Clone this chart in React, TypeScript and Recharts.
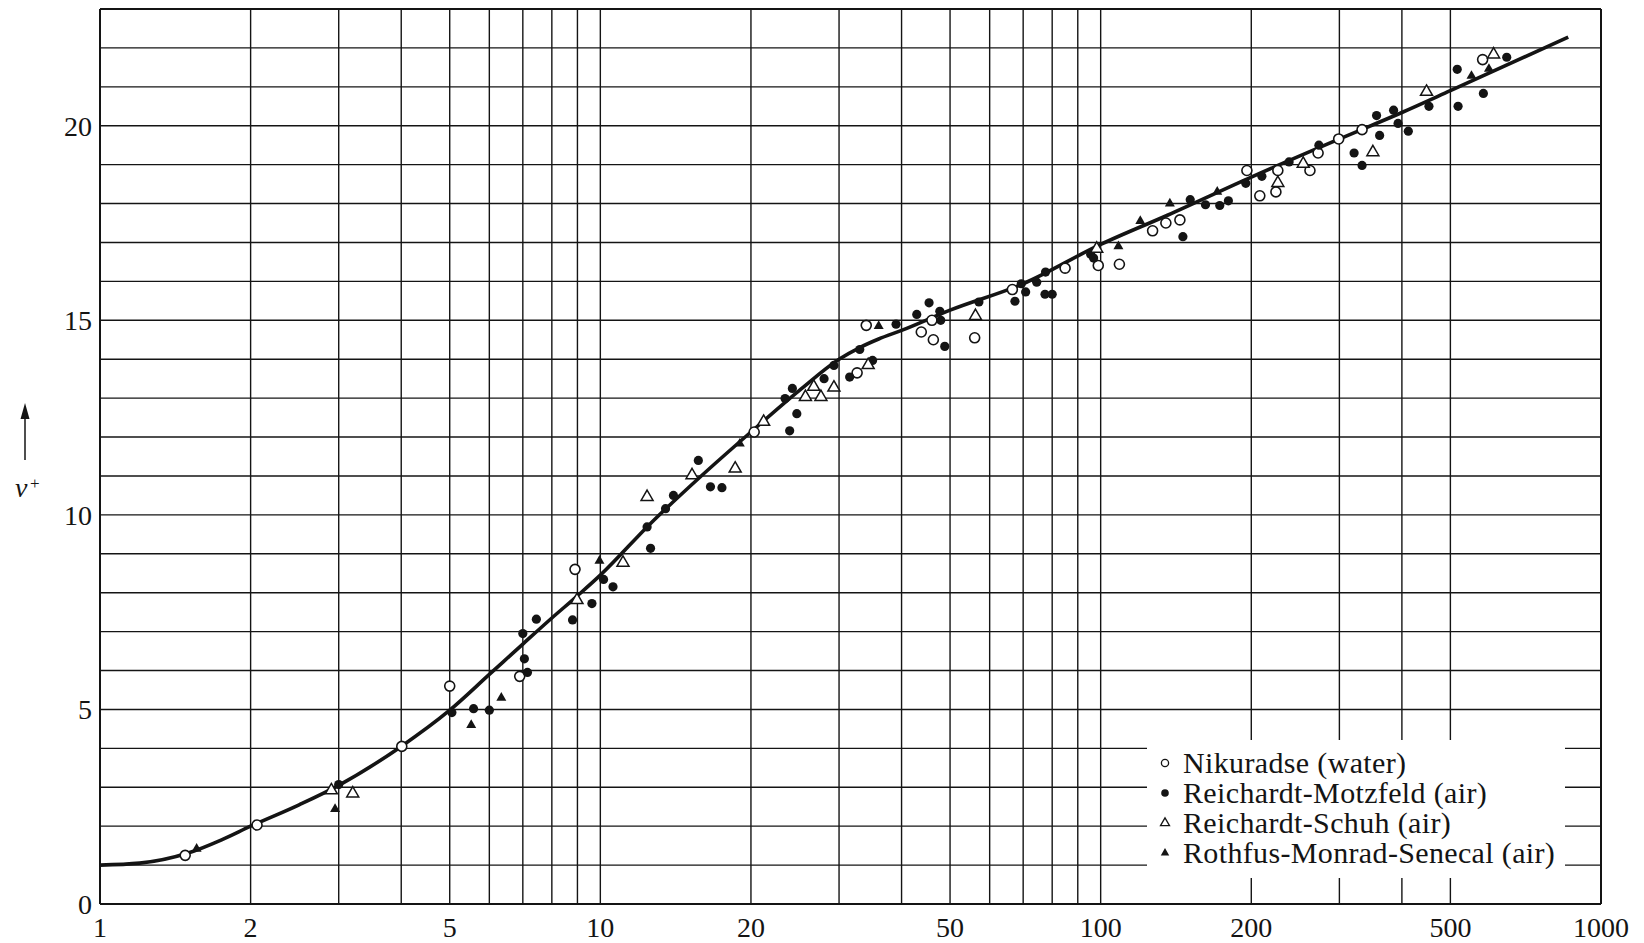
import React from 'react';
import { ComposedChart, Line, Scatter, XAxis, YAxis, ReferenceLine, Legend } from 'recharts';

const FONT = '"Liberation Serif", "Times New Roman", serif';
const INK = '#141414';

// axis ticks and grid values
const xTickLabels = [1, 2, 5, 10, 20, 50, 100, 200, 500, 1000];
const yTickLabels = [0, 5, 10, 15, 20];
const xGridValues = [2, 3, 4, 5, 6, 7, 8, 9, 10, 20, 30, 40, 50, 60, 70, 80, 90, 100, 200, 300, 400, 500];
const yGridValues = [1, 2, 3, 4, 5, 6, 7, 8, 9, 10, 11, 12, 13, 14, 15, 16, 17, 18, 19, 20, 21, 22];

// universal velocity profile curve (y+, v+)
const curvePoints: [number, number][] = [
  [1, 1.0], [1.2, 1.05], [1.5, 1.31], [1.75, 1.65], [2, 2.0], [2.5, 2.55], [3, 3.05], [4, 4.05],
  [5, 4.98], [6, 5.9], [7, 6.68], [8, 7.35], [9, 7.92], [10, 8.45], [12.6, 9.78], [15.85, 10.98],
  [20, 12.13], [25, 13.2], [30, 14.0], [33, 14.3], [36, 14.52], [40, 14.74], [50, 15.26], [70, 15.94],
  [100, 16.95], [136, 17.7], [200, 18.68], [300, 19.66], [400, 20.34], [500, 20.9], [860, 22.28],
];

// Nikuradse (water) - open circles
const nikuradse: [number, number][] = [
  [1.48, 1.25], [2.06, 2.03], [4.01, 4.05], [5.0, 5.6], [6.9, 5.85], [8.9, 8.6], [20.3, 12.13],
  [32.6, 13.65], [34.0, 14.87], [43.8, 14.7], [46.3, 14.5], [46.0, 15.0], [56, 14.55], [66.6, 15.79],
  [84.9, 16.34], [98.9, 16.41], [109, 16.44], [127, 17.3], [135, 17.5], [144, 17.58], [196, 18.85],
  [208, 18.2], [224, 18.3], [226, 18.85], [262, 18.85], [272, 19.3], [299, 19.66], [333, 19.9], [580, 21.7],
];

// Reichardt-Motzfeld (air) - filled circles
const motzfeld: [number, number][] = [
  [3.0, 3.07], [5.05, 4.92], [5.58, 5.02], [6.0, 4.98], [7.0, 6.95], [7.05, 6.3], [7.15, 5.95],
  [7.45, 7.32], [8.8, 7.3], [9.62, 7.72], [10.15, 8.34], [10.6, 8.15], [12.4, 9.69], [12.6, 9.14],
  [13.5, 10.16], [14.0, 10.5], [15.7, 11.4], [16.6, 10.72], [17.5, 10.7], [23.4, 12.99], [24.2, 13.25],
  [23.9, 12.16], [24.7, 12.6], [28.0, 13.5], [29.3, 13.84], [31.5, 13.54], [33.0, 14.25], [35.0, 13.97],
  [39.0, 14.9], [42.9, 15.15], [45.4, 15.45], [47.7, 15.23], [47.9, 15.0], [48.8, 14.33], [57.1, 15.47],
  [67.4, 15.49], [69.4, 15.94], [70.8, 15.73], [74.5, 15.98], [77.4, 15.67], [80, 15.67], [77.6, 16.24],
  [95.5, 16.7], [96.8, 16.6], [146, 17.15], [151, 18.1], [162, 17.97], [173, 17.95], [180, 18.07],
  [195, 18.52], [210, 18.7], [238, 19.07], [273, 19.5], [321, 19.3], [333, 18.98], [356, 20.26],
  [361, 19.75], [385, 20.4], [393, 20.06], [412, 19.86], [453, 20.5], [516, 21.45], [518, 20.5],
  [582, 20.83], [648, 21.76],
];

// Reichardt-Schuh (air) - open triangles
const schuh: [number, number][] = [
  [2.9, 2.92], [3.2, 2.84], [8.98, 7.81], [11.1, 8.77], [12.4, 10.46], [15.25, 11.02], [18.6, 11.19],
  [21.2, 12.39], [25.7, 13.03], [26.7, 13.29], [27.6, 13.03], [29.3, 13.27], [34.3, 13.85], [56.2, 15.11],
  [98.2, 16.84], [226, 18.53], [254, 19.02], [350, 19.32], [448, 20.87], [610, 21.83],
];

// Rothfus-Monrad-Senecal (air) - filled triangles
const rothfus: [number, number][] = [
  [1.56, 1.42], [2.95, 2.44], [5.52, 4.6], [6.34, 5.3], [9.96, 8.82], [19.0, 11.83], [36.0, 14.85],
  [108.5, 16.9], [120, 17.55], [137.5, 18.0], [171, 18.3], [551, 21.28], [597, 21.46],
];

const seriesNames = [
  'Nikuradse (water)',
  'Reichardt-Motzfeld (air)',
  'Reichardt-Schuh (air)',
  'Rothfus-Monrad-Senecal (air)',
];

const toRows = (pts: [number, number][]) => pts.map(([x, y]) => ({ x, y }));

const triPath = (cx: number, cy: number, s: number) => {
  const h = s * 0.866;
  return `M${cx},${cy - (h * 2) / 3} L${cx + s / 2},${cy + h / 3} L${cx - s / 2},${cy + h / 3} Z`;
};

const OpenCircle = (p: any) => <circle cx={p.cx} cy={p.cy} r={5} fill="#fff" stroke={INK} strokeWidth={1.6} />;
const FilledCircle = (p: any) => <circle cx={p.cx} cy={p.cy} r={4.6} fill={INK} />;
const OpenTriangle = (p: any) => (
  <path d={triPath(p.cx, p.cy, 12)} fill="#fff" stroke={INK} strokeWidth={1.5} />
);
const FilledTriangle = (p: any) => <path d={triPath(p.cx, p.cy, 10)} fill={INK} />;

const legendMarker = (i: number, cx: number, cy: number) => {
  if (i === 0) return <circle cx={cx} cy={cy} r={3.6} fill="#fff" stroke={INK} strokeWidth={1.3} />;
  if (i === 1) return <circle cx={cx} cy={cy} r={3.8} fill={INK} />;
  if (i === 2) return <path d={triPath(cx, cy, 9)} fill="#fff" stroke={INK} strokeWidth={1.3} />;
  return <path d={triPath(cx, cy, 8.5)} fill={INK} />;
};

const LegendBox = () => (
  <div style={{ width: 418, height: 138, background: '#fff' }}>
    <svg width={418} height={138}>
      {seriesNames.map((name, i) => (
        <g key={name}>
          {legendMarker(i, 18, 23 + 30 * i)}
          <text x={36} y={33 + 30 * i} fontFamily={FONT} fontSize={30} letterSpacing={0.35} fill={INK}>
            {name}
          </text>
        </g>
      ))}
    </svg>
  </div>
);

const YLabel = () => (
  <g>
    <line x1={17} y1={460} x2={17} y2={414} stroke={INK} strokeWidth={1.5} />
    <path d="M17,403 L12.5,419 L21.5,419 Z" fill={INK} />
    <text x={7} y={497} fontFamily={FONT} fontStyle="italic" fontSize={28} fill={INK}>v</text>
    <text x={22} y={489} fontFamily={FONT} fontSize={17} fill={INK}>+</text>
  </g>
);

export default function App() {
  return (
    <div style={{ width: 1636, height: 943, marginTop: -8, fontFamily: FONT }}>
      <ComposedChart width={1636} height={943} margin={{ top: 9, right: 43, bottom: 0, left: 0 }}>
        <XAxis
          type="number"
          dataKey="x"
          scale="log"
          domain={[1, 1000]}
          ticks={xTickLabels}
          allowDataOverflow
          height={39}
          tickSize={0}
          tickLine={false}
          tickMargin={13}
          axisLine={{ stroke: INK, strokeWidth: 2 }}
          tick={{ fontSize: 28, fill: INK, fontFamily: FONT }}
        />
        <YAxis
          type="number"
          dataKey="y"
          domain={[0, 23]}
          ticks={yTickLabels}
          allowDataOverflow
          width={92}
          tickSize={0}
          tickLine={false}
          tickMargin={8}
          axisLine={{ stroke: INK, strokeWidth: 2 }}
          tick={{ fontSize: 28, fill: INK, fontFamily: FONT }}
          label={YLabel}
        />
        {xGridValues.map((v) => (
          <ReferenceLine key={`vx${v}`} x={v} stroke={INK} strokeWidth={1.4} />
        ))}
        {yGridValues.map((v) => (
          <ReferenceLine key={`hy${v}`} y={v} stroke={INK} strokeWidth={1.4} />
        ))}
        <ReferenceLine x={1000} stroke={INK} strokeWidth={2} />
        <ReferenceLine y={23} stroke={INK} strokeWidth={2} />
        <Line
          data={toRows(curvePoints)}
          dataKey="y"
          type="monotone"
          dot={false}
          stroke={INK}
          strokeWidth={3.6}
          legendType="none"
          isAnimationActive={false}
        />
        <Scatter name={seriesNames[0]} data={toRows(nikuradse)} shape={OpenCircle} isAnimationActive={false} />
        <Scatter name={seriesNames[1]} data={toRows(motzfeld)} shape={FilledCircle} isAnimationActive={false} />
        <Scatter name={seriesNames[2]} data={toRows(schuh)} shape={OpenTriangle} isAnimationActive={false} />
        <Scatter name={seriesNames[3]} data={toRows(rothfus)} shape={FilledTriangle} isAnimationActive={false} />
        <Legend
          layout="vertical"
          align="center"
          verticalAlign="middle"
          content={LegendBox}
          wrapperStyle={{ left: 1139, top: 740, width: 418, height: 138 }}
        />
      </ComposedChart>
    </div>
  );
}
